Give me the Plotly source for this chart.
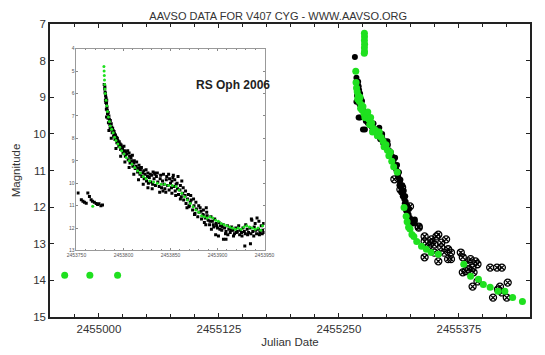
import plotly.graph_objects as go

# ---- V407 Cyg (main panel) ----
# early pre-outburst observations (green)
early_jd = [2454964.3, 2454990.5, 2455019.4]
early_mag = [13.86, 13.86, 13.86]

# visual estimates, filled black dots
vis_jd = [2455266.6, 2455268.2, 2455268.5, 2455269.0, 2455270.0, 2455270.5, 2455271.0,
          2455268.8, 2455272.0, 2455273.0, 2455271.5, 2455274.0, 2455275.0, 2455270.5,
          2455276.0, 2455277.0, 2455279.0, 2455278.0, 2455280.0, 2455282.0, 2455284.0,
          2455286.0, 2455285.0, 2455287.0, 2455289.0, 2455290.0, 2455292.0, 2455293.0,
          2455295.0, 2455296.0, 2455298.0, 2455299.0, 2455301.0, 2455302.0, 2455304.0,
          2455305.5, 2455307.0, 2455308.0, 2455309.5, 2455311.0, 2455312.0, 2455313.5,
          2455314.5, 2455315.5, 2455317.0, 2455318.0, 2455319.5, 2455320.5, 2455321.5,
          2455322.5, 2455324.0, 2455329.0, 2455326.0, 2455281.0, 2455268.2, 2455272.0,
          2455277.0, 2455292.0, 2455295.0, 2455300.5, 2455275.0, 2455329.0,
          2455306.5, 2455308.5, 2455310.0, 2455310.5, 2455311.5, 2455312.5, 2455313.0,
          2455314.0, 2455315.0, 2455316.0, 2455316.5, 2455317.5, 2455318.5, 2455319.0,
          2455320.0, 2455321.0, 2455322.0, 2455323.0, 2455325.0, 2455327.0]
vis_mag = [7.90, 8.47, 8.55, 8.62, 8.58, 8.70, 8.80,
           8.95, 8.90, 9.05, 9.20, 9.10, 9.30, 9.55,
           9.40, 9.50, 9.45, 9.65, 9.70, 9.75, 9.80,
           9.72, 9.90, 9.95, 9.88, 10.05, 10.00, 10.15,
           10.10, 10.25, 10.20, 10.35, 10.30, 10.45, 10.50,
           10.62, 10.70, 10.85, 10.95, 11.05, 11.20, 11.30,
           11.45, 11.55, 11.65, 11.78, 11.85, 12.00, 12.10,
           12.20, 12.30, 12.39, 12.40, 9.55, 9.12, 9.55,
           9.88, 9.83, 10.00, 10.20, 9.88, 12.34,
           10.75, 10.65, 11.00, 10.85, 11.15, 11.05, 11.40,
           11.25, 11.60, 11.40, 11.70, 11.55, 11.90, 11.70,
           12.10, 11.95, 12.30, 12.05, 12.35, 12.45]

# fainter estimates, open crossed circles
faint_jd = [2455307.7, 2455314.0, 2455315.8, 2455324.0, 2455333.1, 2455333.1, 2455339.2,
            2455346.4, 2455356.6, 2455353.5, 2455351.5, 2455361.6, 2455339.2, 2455346.4,
            2455349.4, 2455343.3, 2455356.6, 2455363.7, 2455349.4, 2455359.6, 2455366.7,
            2455366.7, 2455339.2, 2455353.5, 2455363.7, 2455376.9, 2455379.0, 2455387.1,
            2455392.2, 2455384.1, 2455394.3, 2455389.2, 2455382.0, 2455379.0, 2455390.2,
            2455385.1, 2455407.5, 2455414.6, 2455419.7, 2455389.2, 2455394.3, 2455417.7,
            2455425.8, 2455419.7, 2455410.5, 2455424.8, 2455415.6]
faint_mag = [11.24, 11.52, 11.46, 11.98, 12.53, 12.56, 12.80,
             12.88, 12.97, 12.75, 12.80, 12.88, 12.94, 12.97,
             13.02, 13.07, 13.10, 13.15, 13.24, 13.24, 13.24,
             13.42, 13.37, 13.48, 13.42, 13.24, 13.37, 13.42,
             13.48, 13.51, 13.56, 13.65, 13.75, 13.78, 13.78,
             13.70, 13.65, 13.65, 13.65, 14.17, 14.03, 14.17,
             14.06, 14.33, 14.47, 14.47, 14.25]

# V band (green)
v_jd = [2455276.5, 2455276.6, 2455276.5, 2455276.7, 2455276.5, 2455276.6, 2455276.4,
        2455267.5, 2455267.8, 2455268.3, 2455269.0, 2455270.0, 2455269.5, 2455271.0,
        2455272.0, 2455273.0, 2455272.5, 2455274.0, 2455275.0, 2455276.0, 2455277.0,
        2455278.5, 2455280.0, 2455281.0, 2455283.0, 2455282.0, 2455284.0, 2455286.0,
        2455285.0, 2455288.0, 2455290.0, 2455292.0, 2455294.0, 2455296.0, 2455297.0,
        2455299.0, 2455300.5, 2455302.0, 2455303.5, 2455305.0, 2455307.0, 2455310.7,
        2455317.8, 2455320.0, 2455321.0, 2455322.5, 2455324.0, 2455326.0, 2455328.0,
        2455331.0, 2455336.0, 2455341.0, 2455346.0, 2455353.5, 2455380.0, 2455387.1,
        2455395.3, 2455400.4, 2455407.5, 2455415.6, 2455422.8, 2455430.9, 2455441.1]
v_mag = [7.25, 7.35, 7.45, 7.55, 7.65, 7.75, 7.80,
         8.29, 8.60, 8.75, 8.85, 8.95, 9.05, 9.10,
         9.00, 9.20, 9.30, 9.35, 9.25, 9.45, 9.55,
         9.50, 9.40, 9.60, 9.55, 9.75, 9.70, 9.85,
         9.95, 9.90, 10.05, 9.95, 10.10, 10.20, 10.35,
         10.30, 10.45, 10.60, 10.50, 10.75, 10.90, 11.05,
         12.01, 12.25, 12.40, 12.55, 12.60, 12.75, 12.80,
         12.94, 13.07, 13.15, 13.24, 13.29, 13.56, 13.89,
         13.97, 14.11, 14.19, 14.30, 14.30, 14.47, 14.58]

# ---- RS Oph 2006 (inset) ----
rs_vis_jd = [2453751.7, 2453755.2, 2453756.9, 2453758.5, 2453760.4, 2453762.1, 2453763.8,
             2453765.6, 2453767.0, 2453769.0, 2453771.0, 2453772.5, 2453774.0, 2453776.0,
             2453777.7,
             2453779.5, 2453780.0, 2453780.5, 2453781.0, 2453780.8, 2453781.5, 2453782.0,
             2453781.8, 2453782.5, 2453783.0, 2453783.5, 2453784.5, 2453784.0, 2453785.5,
             2453786.0, 2453786.5, 2453787.5, 2453788.0, 2453789.0, 2453789.5, 2453790.5,
             2453791.0, 2453792.5, 2453793.0, 2453794.0, 2453795.0, 2453796.5, 2453797.0,
             2453798.5, 2453799.5, 2453801.0, 2453802.0, 2453803.5, 2453805.0, 2453806.5,
             2453807.0, 2453808.5, 2453810.0, 2453811.0, 2453812.5, 2453813.5, 2453815.0,
             2453816.0, 2453817.5, 2453818.0, 2453819.5, 2453820.5, 2453822.0, 2453823.0,
             2453824.5, 2453825.5, 2453826.5, 2453827.5, 2453829.0, 2453830.0, 2453831.0,
             2453832.5, 2453834.0, 2453835.0, 2453836.5, 2453838.0, 2453839.0, 2453840.5,
             2453841.5, 2453843.0, 2453844.0, 2453845.5, 2453847.0, 2453848.5, 2453850.0,
             2453851.0, 2453852.5, 2453853.5, 2453855.0, 2453856.0, 2453857.5, 2453858.5,
             2453860.0, 2453861.5, 2453863.0, 2453864.0, 2453865.5, 2453866.5, 2453868.0,
             2453869.5, 2453871.0, 2453872.0, 2453873.5, 2453875.0, 2453876.0, 2453877.5,
             2453879.0, 2453880.5, 2453881.5, 2453883.0, 2453884.5, 2453886.0, 2453887.0,
             2453888.5, 2453890.0, 2453891.5, 2453893.0, 2453894.5, 2453896.0, 2453897.0,
             2453898.5, 2453900.0, 2453901.5, 2453903.0, 2453904.5, 2453906.0, 2453906.3,
             2453907.5, 2453909.0, 2453910.5, 2453912.0, 2453913.5, 2453915.0, 2453916.5,
             2453918.0, 2453919.5, 2453921.0, 2453922.5, 2453924.0, 2453925.5, 2453927.0,
             2453928.5, 2453930.0, 2453931.5, 2453933.0, 2453934.5, 2453936.0, 2453937.5,
             2453939.0, 2453940.5, 2453942.0, 2453943.5, 2453945.0, 2453946.5, 2453948.0,
             2453949.0, 2453935.0, 2453885.0, 2453888.0, 2453848.0, 2453853.0, 2453858.0,
             2453909.0, 2453929.0, 2453862.0, 2453818.5, 2453833.0,
             2453780.2, 2453780.7, 2453781.2, 2453782.2, 2453782.8, 2453783.8, 2453785.0,
             2453785.8, 2453787.0, 2453788.5, 2453790.0, 2453791.5, 2453793.5, 2453795.5,
             2453797.5, 2453799.0, 2453800.5, 2453802.5, 2453804.5, 2453806.0, 2453808.0,
             2453809.5, 2453811.5, 2453814.0, 2453816.5, 2453819.0, 2453821.5, 2453824.0,
             2453826.0, 2453828.5, 2453831.5, 2453833.5, 2453836.0, 2453839.5, 2453842.5,
             2453846.0, 2453849.0, 2453851.5, 2453854.5, 2453857.0, 2453860.5, 2453863.5,
             2453866.0, 2453869.0, 2453871.5, 2453874.5, 2453877.0, 2453880.0, 2453882.5,
             2453885.5, 2453889.0, 2453892.0, 2453895.5, 2453899.0, 2453902.5, 2453905.0,
             2453908.5, 2453911.0, 2453914.5, 2453917.0, 2453920.0, 2453923.5, 2453926.0,
             2453929.5, 2453932.0, 2453935.5, 2453938.5, 2453941.5, 2453944.5, 2453947.5,
             2453949.5, 2453936.5, 2453944.0, 2453940.0, 2453898.0, 2453901.0, 2453887.5,
             2453893.5, 2453870.0, 2453867.5, 2453875.5, 2453845.0, 2453842.0, 2453838.5,
             2453851.5, 2453855.5, 2453860.5, 2453830.5, 2453826.0, 2453821.0, 2453816.0,
             2453811.0, 2453806.0, 2453801.5, 2453797.0, 2453792.0, 2453787.0, 2453784.5,
             2453782.0]
rs_vis_mag = [10.44, 10.74, 10.81, 10.85, 10.89, 10.44, 10.59,
              10.74, 10.80, 10.85, 10.90, 10.95, 10.92, 11.00,
              10.97,
              5.60, 5.80, 5.95, 6.10, 6.30, 6.20, 6.45,
              6.70, 6.60, 6.90, 7.10, 7.00, 7.30, 7.40,
              7.20, 7.60, 7.50, 7.75, 7.65, 7.90, 7.80,
              8.05, 7.95, 8.20, 8.10, 8.35, 8.25, 8.50,
              8.40, 8.65, 8.55, 8.80, 8.70, 8.95, 8.80,
              9.10, 9.00, 9.25, 9.10, 9.35, 9.25, 9.50,
              9.35, 9.60, 9.40, 9.70, 9.55, 9.80, 9.60,
              9.90, 9.70, 10.00, 9.75, 9.95, 9.65, 10.05,
              9.80, 10.10, 9.70, 9.95, 10.15, 9.80, 10.20,
              9.90, 10.05, 10.25, 9.85, 10.10, 10.30, 10.00,
              10.20, 9.75, 10.15, 10.35, 10.05, 10.25, 10.50,
              10.30, 10.60, 10.45, 10.75, 10.55, 10.90, 10.70,
              11.05, 10.85, 10.75, 11.20, 11.00, 11.35, 11.15,
              11.50, 11.30, 11.10, 11.60, 11.40, 11.75, 11.55,
              11.30, 11.65, 11.85, 11.50, 11.70, 11.95, 11.60,
              11.80, 12.00, 11.75, 11.90, 12.10, 11.85, 12.50,
              12.00, 12.15, 11.90, 12.05, 12.20, 11.95, 12.10,
              12.25, 12.00, 12.15, 11.90, 12.10, 12.20, 12.00,
              12.15, 11.85, 12.05, 12.20, 12.00, 11.60, 12.15,
              11.95, 12.10, 11.55, 12.05, 12.20, 11.90, 12.10,
              11.80, 12.70, 11.20, 11.10, 9.60, 9.65, 9.70,
              12.50, 12.80, 9.90, 9.30, 9.55,
              5.70, 6.00, 6.40, 6.30, 6.75, 6.85, 7.15,
              7.55, 7.35, 7.55, 7.70, 7.85, 8.00, 8.15,
              8.30, 8.45, 8.35, 8.60, 8.55, 8.65, 8.85,
              8.75, 9.00, 9.05, 9.20, 9.30, 9.45, 9.40,
              9.55, 9.60, 9.50, 9.60, 9.55, 9.65, 9.60,
              9.70, 9.80, 9.90, 9.85, 10.00, 10.10, 10.20,
              10.35, 10.50, 10.55, 10.70, 10.85, 11.00, 11.25,
              11.45, 11.45, 11.70, 11.85, 11.90, 12.05, 11.95,
              12.25, 12.30, 12.10, 12.35, 12.20, 12.30, 12.35,
              12.25, 12.30, 12.25, 12.35, 12.25, 12.30, 12.25,
              12.20, 11.65, 11.70, 11.80, 12.30, 12.35, 11.85,
              12.05, 11.00, 11.10, 11.40, 10.40, 10.35, 10.40,
              10.45, 10.55, 10.70, 10.25, 10.20, 10.05, 9.85,
              9.60, 9.30, 9.05, 8.80, 8.45, 8.00, 7.65,
              7.05]

rs_v_jd = [2453767.3,
           2453779.2, 2453779.4, 2453779.6, 2453779.8, 2453780.0, 2453780.3, 2453780.6,
           2453781.5, 2453782.3, 2453783.0, 2453784.0, 2453785.0, 2453786.0, 2453787.5,
           2453789.0, 2453790.5, 2453792.0, 2453794.0, 2453796.0, 2453798.0, 2453800.5,
           2453803.0, 2453806.0, 2453809.0, 2453812.0, 2453815.0, 2453818.0, 2453821.0,
           2453824.0, 2453828.0, 2453832.0, 2453836.0, 2453840.0, 2453844.0, 2453848.0,
           2453852.0, 2453856.0, 2453859.0, 2453862.0, 2453865.0, 2453868.0, 2453871.0,
           2453874.0, 2453877.0, 2453880.0, 2453883.0, 2453886.0, 2453889.0, 2453892.0,
           2453895.0, 2453898.0, 2453901.0, 2453904.0, 2453907.0, 2453910.0, 2453913.0,
           2453916.0, 2453919.0, 2453922.0, 2453925.0, 2453928.0, 2453931.0, 2453934.0,
           2453937.0, 2453940.0, 2453943.0, 2453946.0, 2453948.0]
rs_v_mag = [11.03,
            4.80, 5.00, 5.20, 5.40, 5.60, 5.80, 6.00,
            6.30, 6.55, 6.80, 7.05, 7.25, 7.45, 7.60,
            7.75, 7.95, 8.10, 8.25, 8.40, 8.55, 8.70,
            8.85, 9.00, 9.15, 9.30, 9.45, 9.55, 9.70,
            9.80, 9.90, 9.95, 10.00, 10.05, 10.05, 10.10,
            10.10, 10.15, 10.30, 10.45, 10.60, 10.75, 10.90,
            11.05, 11.20, 11.30, 11.45, 11.50, 11.55, 11.50,
            11.55, 11.65, 11.70, 11.80, 11.85, 11.90, 11.95,
            12.00, 12.05, 12.00, 12.05, 11.95, 11.90, 11.95,
            12.00, 12.05, 12.00, 12.10, 11.90]

main_ticks = [2455000, 2455125, 2455250, 2455375]
inset_ticks = [2453750, 2453800, 2453850, 2453900, 2453950]

GREEN = "#1fe01f"

fig = go.Figure()

fig.add_trace(go.Scatter(x=vis_jd, y=vis_mag, mode="markers",
                         marker=dict(color="black", size=6)))
fig.add_trace(go.Scatter(x=faint_jd, y=faint_mag, mode="markers",
                         marker=dict(color="black", size=7, symbol="circle-x-open",
                                     line=dict(width=1.3))))
fig.add_trace(go.Scatter(x=early_jd + v_jd, y=early_mag + v_mag, mode="markers",
                         marker=dict(color=GREEN, size=7)))

# inset
fig.add_trace(go.Scatter(x=rs_vis_jd, y=rs_vis_mag, mode="markers",
                         marker=dict(color="black", size=3, symbol="square"),
                         xaxis="x2", yaxis="y2"))
fig.add_trace(go.Scatter(x=rs_v_jd, y=rs_v_mag, mode="markers",
                         marker=dict(color=GREEN, size=3),
                         xaxis="x2", yaxis="y2"))

fig.add_annotation(text="<b>RS Oph 2006</b>", x=0.30, y=0.821, xref="paper", yref="paper",
                   showarrow=False, font=dict(size=12, color="#222"))

axis_font = dict(family="Liberation Sans, Arial", size=11.5, color="#333")

# page has an 8px body margin, so the figure is 8px smaller than the window
fig.update_layout(
    width=537, height=347,
    margin=dict(l=42, r=5, t=16, b=37.5),
    paper_bgcolor="white", plot_bgcolor="white",
    showlegend=False,
    font=dict(family="Liberation Sans, Arial", color="#333"),
    title=dict(text="AAVSO DATA FOR V407 CYG - WWW.AAVSO.ORG", x=0.4755, xref="paper",
               y=0.977, yref="container", xanchor="center", yanchor="middle",
               font=dict(size=11, color="#333")),
    xaxis=dict(range=[2454949, 2455449], tickvals=main_ticks,
               ticktext=[str(t) for t in main_ticks],
               ticks="inside", ticklen=4, tickcolor="#222", showline=True, linecolor="#222",
               linewidth=1.5, mirror="ticks", showgrid=False, zeroline=False,
               minor=dict(tick0=2455000, dtick=25, ticks="inside", ticklen=3, tickcolor="#222"),
               tickfont=axis_font, automargin=False,
               title=dict(text="Julian Date", font=dict(size=11.5, color="#333"), standoff=4)),
    yaxis=dict(range=[15, 7], dtick=1, tick0=7,
               ticks="inside", ticklen=4, tickcolor="#222", showline=True, linecolor="#222",
               linewidth=1.5, mirror="ticks", showgrid=False, zeroline=False,
               tickfont=axis_font, automargin=False,
               title=dict(text="Magnitude", font=dict(size=11.5, color="#333"), standoff=10)),
    xaxis2=dict(domain=[0.0551, 0.447], anchor="y2", range=[2453750, 2453950],
                tickvals=inset_ticks, ticktext=[str(t) for t in inset_ticks],
                ticks="inside", ticklen=2, tickcolor="#888", showline=True, linecolor="#999",
                linewidth=1, mirror="ticks", showgrid=False, zeroline=False,
                minor=dict(dtick=10, ticks="inside", ticklen=1.5, tickcolor="#888"),
                tickfont=dict(size=5, color="#555")),
    yaxis2=dict(domain=[0.227, 0.916], anchor="x2", range=[13, 4], dtick=1, tick0=4,
                ticks="inside", ticklen=2, tickcolor="#888", showline=True, linecolor="#999",
                linewidth=1, mirror="ticks", showgrid=False, zeroline=False,
                tickfont=dict(size=5, color="#555")),
)

fig.write_html("out.html")
